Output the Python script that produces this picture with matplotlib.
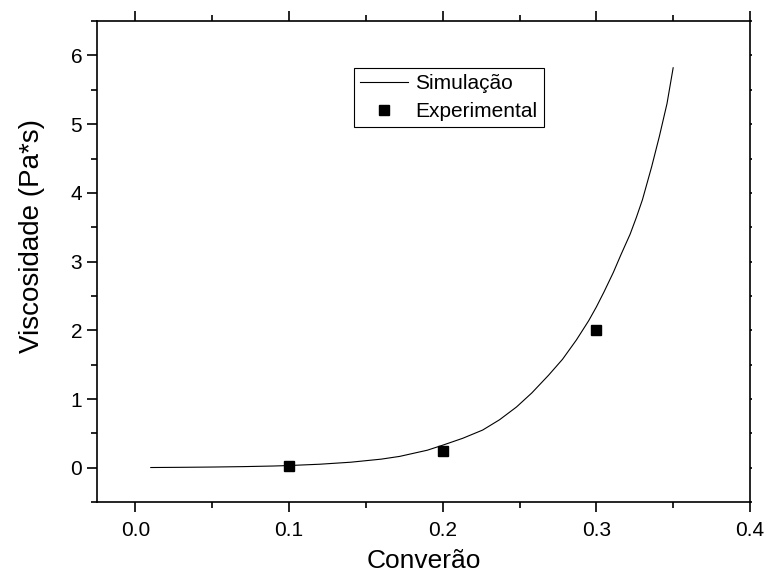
import matplotlib.pyplot as plt
from matplotlib.ticker import MultipleLocator

plt.rcParams['font.family'] = ['Liberation Sans', 'DejaVu Sans']

# simulated curve
sim_x = [0.01, 0.03, 0.05, 0.07, 0.09, 0.10, 0.12, 0.14, 0.16, 0.172, 0.19, 0.20,
         0.213, 0.226, 0.237, 0.248, 0.258, 0.269, 0.278, 0.287, 0.295, 0.30,
         0.305, 0.311, 0.316, 0.322, 0.326, 0.33, 0.336, 0.341, 0.346, 0.35]
sim_y = [0.005, 0.008, 0.012, 0.018, 0.027, 0.034, 0.053, 0.082, 0.127, 0.167, 0.257, 0.33,
         0.43, 0.55, 0.70, 0.885, 1.09, 1.35, 1.58, 1.86, 2.14, 2.34,
         2.56, 2.84, 3.10, 3.40, 3.64, 3.90, 4.38, 4.82, 5.30, 5.82]

# experimental points
exp_x = [0.1, 0.2, 0.3]
exp_y = [0.03, 0.25, 2.01]

fig = plt.figure(figsize=(7.7, 5.84), dpi=100)
ax = fig.add_axes([0.126, 0.140, 0.848, 0.824])

ax.plot(sim_x, sim_y, color='black', linewidth=0.8, label='Simulação')
ax.plot(exp_x, exp_y, linestyle='none', marker='s', markersize=7.5,
        color='black', label='Experimental')

ax.set_xlim(-0.025, 0.4)
ax.set_ylim(-0.5, 6.5)
ax.xaxis.set_major_locator(MultipleLocator(0.1))
ax.xaxis.set_minor_locator(MultipleLocator(0.05))
ax.yaxis.set_major_locator(MultipleLocator(1))
ax.yaxis.set_minor_locator(MultipleLocator(0.5))
ax.xaxis.set_major_formatter(plt.FormatStrFormatter('%.1f'))

for s in ax.spines.values():
    s.set_linewidth(1.2)

ax.tick_params(which='both', direction='out', width=1.2, labelsize=15,
               top=True, right=True)
ax.tick_params(which='major', length=7.2)
ax.tick_params(which='minor', length=4)
ax.tick_params(axis='x', which='major', pad=6.5)
ax.tick_params(axis='y', which='major', pad=3.5)
# right side ticks are barely visible in the original
for t in ax.yaxis.get_major_ticks() + ax.yaxis.get_minor_ticks():
    t.tick2line.set_markersize(1.2)

ax.set_xlabel('Converão', fontsize=19)
ax.xaxis.set_label_coords(0.5, -0.098)
ax.set_ylabel('Viscosidade (Pa*s)', fontsize=20)
ax.yaxis.set_label_coords(-0.08, 0.553)

leg = ax.legend(loc='upper left', bbox_to_anchor=(0.3936, 0.902), borderaxespad=0,
                fontsize=15, frameon=True, fancybox=False, edgecolor='black',
                framealpha=1, handlelength=2.3, handletextpad=0.35,
                borderpad=0.3, labelspacing=0.42)
leg.get_frame().set_linewidth(0.8)

fig.savefig('out.png', dpi=100)
